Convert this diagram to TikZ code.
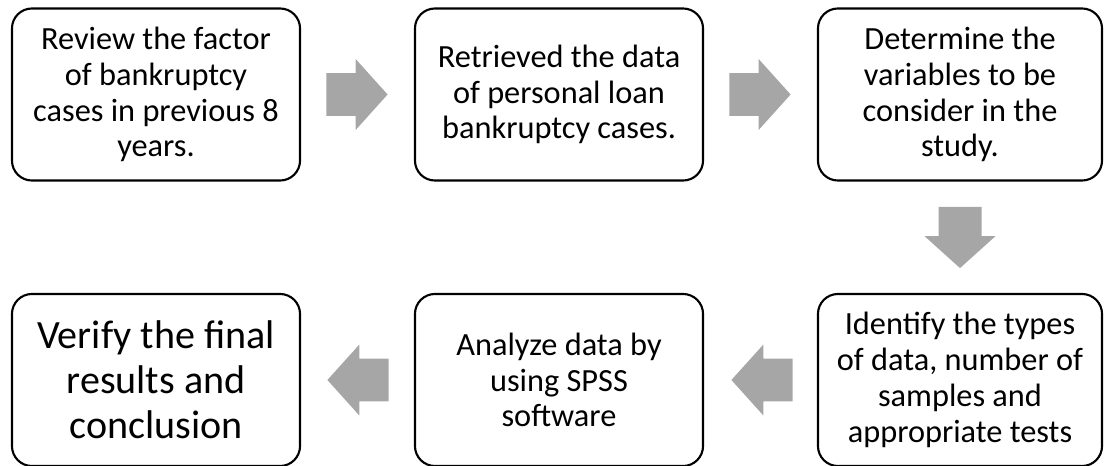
\documentclass[tikz,border=0pt]{standalone}
\usepackage{fontspec}
\setmainfont{Carlito}
\usetikzlibrary{shapes.arrows}
\definecolor{arrowgray}{RGB}{166,166,166}

\begin{document}
\begin{tikzpicture}[x=0.025cm,y=-0.025cm,
		stepbox/.style={draw,line width=1.5pt,rounded corners=0.5cm,minimum width=7.2cm,minimum height=4.3cm,align=center,inner sep=0pt,font=\fontsize{23}{25.5}\selectfont},
		fatarrow/.style={single arrow,fill=arrowgray,draw=none,inner xsep=0pt,inner ysep=0.53cm,minimum height=1.53cm,single arrow head extend=0.35cm,single arrow tip angle=96,anchor=tail}]
		\useasboundingbox (0,0) rectangle (1104,466);
		\node[stepbox] (1) at (156,94.5) {Review the factor\\of bankruptcy\\cases in previous 8\\years.};
		\node[stepbox] (2) at (559,94.5) {Retrieved the data\\of personal loan\\bankruptcy cases.};
		\node[stepbox,minimum width=7.1cm] (3) at (960,94.5) {Determine the\\variables to be\\consider in the\\study.};
		\node[stepbox,minimum width=7.1cm] (6) at (960,380) {Identify the types\\of data, number of\\samples and\\appropriate tests};
		\node[stepbox] (5) at (559,380) {Analyze data by\\using SPSS\\software};
		\node[stepbox,font=\fontsize{28.5}{32}\selectfont] (4) at (156,380) {Verify the final\\results and\\conclusion};
		
		\node[fatarrow] (a12) at ([xshift=0.625cm]1.east) {};
		\node[fatarrow] (a23) at ([xshift=0.625cm]2.east) {};
		\node[fatarrow,rotate=-90] (a36) at ([yshift=-0.625cm]3.south) {};
		\node[fatarrow,rotate=180] (a65) at ([xshift=-0.6cm]6.west) {};
		\node[fatarrow,rotate=180] (a54) at ([xshift=-0.625cm]5.west) {};
		\end{tikzpicture}
\end{document}
